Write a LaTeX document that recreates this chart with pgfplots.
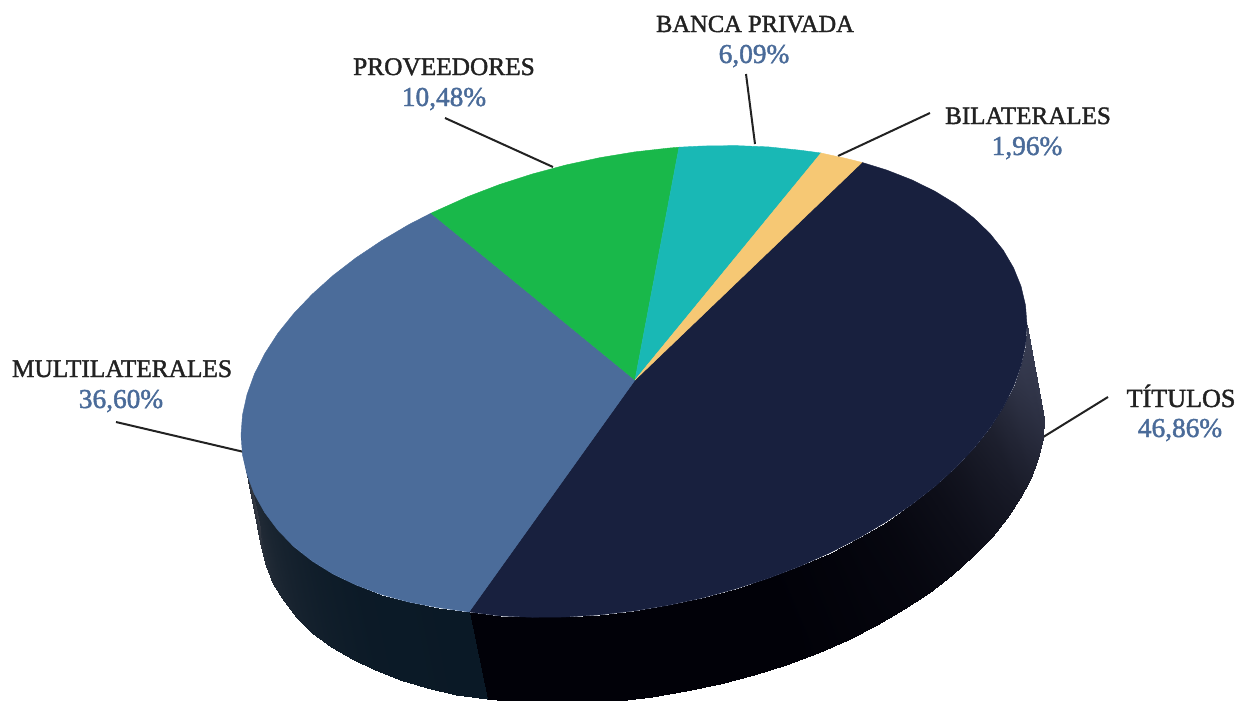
\documentclass[border=0pt]{standalone}
\usepackage{fontspec}
\setmainfont{Liberation Serif}
\newfontfamily\lab[FakeBold=1.6]{Liberation Serif}
\usepackage{pgfplots}
\pgfplotsset{compat=1.18}

\definecolor{navy}{RGB}{24,32,62}
\definecolor{steel}{RGB}{75,108,154}
\definecolor{leaf}{RGB}{25,184,74}
\definecolor{teal2}{RGB}{25,184,181}
\definecolor{sand}{RGB}{246,200,116}
\definecolor{ink}{RGB}{34,34,34}
\definecolor{val}{RGB}{74,107,153}

\newcommand{\name}[4][19]{\node[anchor=base,text=ink,font=\lab\fontsize{#1}{20}\selectfont] at (axis cs:#2,#3) {#4};}
\newcommand{\pct}[3]{\node[anchor=base,text=val,font=\lab\fontsize{20.5}{22}\selectfont] at (axis cs:#1,#2) {#3};}

\begin{document}
\begin{tikzpicture}
\begin{axis}[
    scale only axis,
    width=934.5pt,
    height=525pt,
    xmin=0, xmax=1246,
    ymin=0, ymax=700,
    y dir=reverse,
    ticks=none,
    axis line style={draw=none},
    point meta min=0,
    point meta max=1,
]

% leader lines
\addplot[ink, line width=1.5pt] coordinates {(116,422) (244,452)};
\addplot[ink, line width=1.5pt] coordinates {(445,118) (553,167)};
\addplot[ink, line width=1.5pt] coordinates {(746,74) (755,144)};
\addplot[ink, line width=1.5pt] coordinates {(930,113) (838,156)};
\addplot[ink, line width=1.5pt] coordinates {(1108,397) (1040,439)};

% right wall
\addplot[surf, shader=interp, mesh/rows=2, point meta=explicit,
    colormap={wallr}{rgb255=(1,1,8) rgb255=(58,63,85)}]
    table[meta=m] {
x y m
1027 325 1
1025.5 345.3 .95
1021 365.9 .9
1013.6 386.7 .8
1003.3 407.3 .65
990.2 427.8 .5
974.3 447.9 .4
955.9 467.4 .3
935 486.4 .22
911.9 504.4 .16
886.6 521.5 .1
859.4 537.7 .07
830.5 552.5 .04
800.1 566.2 .02
768.4 578.3 0
735.7 588.9 0
702.2 598 0
668.3 605.3 0
634 611 0
599.7 614.9 0
565.8 617 0
532.3 617.3 0
499.6 615.9 0
469 612 0
1044 418 .8
1042.5 437.7 .7
1038 457.7 .6
1030.6 477.9 .5
1020.4 497.9 .4
1007.3 517.9 .33
991.5 537.4 .27
973.1 556.4 .2
952.3 574.9 .15
929.2 592.5 .1
904 609.2 .07
876.9 625 .05
848 639.5 .03
817.7 652.8 .01
786.1 664.7 0
753.5 675.2 0
720.1 684.1 0
686.2 691.3 0
652 697 0
617.8 700.9 0
583.9 703 0
550.5 703.6 0
517.9 702.3 0
487 699 0
};

% left wall
\addplot[surf, shader=interp, mesh/rows=2, point meta=explicit,
    colormap={walll}{rgb255=(10,25,38) rgb255=(50,55,65)}]
    table[meta=m] {
x y m
469 612 0
437.5 607.5 .01
408.6 602 .02
381.4 594.5 .03
356.1 585 .05
333 574 .1
312.1 561 .16
293.7 546.5 .24
277.8 530 .32
264.7 512.5 .42
254.4 494 .55
247 474.3 .7
242.5 454.9 .85
241 435 1
487 699 0
456 694.5 .01
427.1 688 .02
400 680 .03
374.8 670.3 .05
351.7 659.1 .1
330.9 646.6 .16
312.5 632.6 .24
296.7 617.5 .32
283.6 601.3 .42
273.4 584.1 .55
266 566.1 .7
261.5 547.3 .85
260 528 1
};

% TITULOS
\addplot[fill=navy, draw=navy, line width=0.3pt] coordinates {
(635,380) (862,162.4) (886.6,170) (911.9,179.9) (935,191.3) (955.9,204.1) (974.3,218.4)
(990.2,233.8) (1003.3,250.3) (1013.6,267.9) (1021,286.2) (1025.5,305.3) (1027,325)
(1025.5,345.3) (1021,365.9) (1013.6,386.7) (1003.3,407.3) (990.2,427.8) (974.3,447.9)
(955.9,467.4) (935,486.4) (911.9,504.4) (886.6,521.5) (859.4,537.7) (830.5,552.5)
(800.1,566.2) (768.4,578.3) (735.7,588.9) (702.2,598) (668.3,605.3) (634,611)
(599.7,614.9) (565.8,617) (532.3,617.3) (499.6,615.9) (469,612) (635,380)
};
% MULTILATERALES
\addplot[fill=steel, draw=steel, line width=0.3pt] coordinates {
(635,380) (469,612) (437.5,607.5) (408.6,602) (381.4,594.5) (356.1,585) (333,574)
(312.1,561) (293.7,546.5) (277.8,530) (264.7,512.5) (254.4,494) (247,474.3) (242.5,454.9)
(241,435) (242.5,414.9) (247,394.6) (254.4,374.1) (264.7,353.7) (277.8,333.4) (293.7,313.6)
(312.1,294.3) (333,275.5) (356.1,257.7) (381.4,240.8) (408.6,224.7) (431,213.2) (635,380)
};
% PROVEEDORES
\addplot[fill=leaf, draw=leaf, line width=0.3pt] coordinates {
(635,380) (431,213.2) (467.9,196.6) (499.6,184.5) (532.3,174) (565.8,165) (599.7,157.7)
(634,152) (668.3,148.1) (679,147.2) (635,380)
};
% BANCA PRIVADA
\addplot[fill=teal2, draw=teal2, line width=0.3pt] coordinates {
(635,380) (679,147.2) (702.2,146) (735.7,145.6) (768.4,146.9) (800.1,150.2) (821,153) (635,380)
};
% BILATERALES
\addplot[fill=sand, draw=sand, line width=0.3pt] coordinates {
(635,380) (821,153) (830.5,155.1) (845,158.2) (862,162.4) (635,380)
};

\name{122}{377}{MULTILATERALES}
\pct{121}{408}{36,60\%}
\name{444}{75}{PROVEEDORES}
\pct{444}{106}{10,48\%}
\name[18.4]{755}{32}{BANCA PRIVADA}
\pct{754}{63}{6,09\%}
\name[18.8]{1028}{124}{BILATERALES}
\pct{1027}{155}{1,96\%}
\name[19.6]{1181}{407}{TÍTULOS}
\pct{1180}{437}{46,86\%}

\end{axis}
\end{tikzpicture}
\end{document}
